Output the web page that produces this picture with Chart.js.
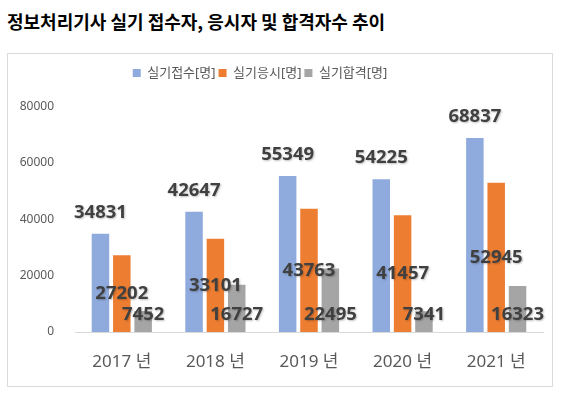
<!DOCTYPE html>
<html>
<head>
<meta charset="utf-8">
<script src="https://cdn.jsdelivr.net/npm/chart.js@4/dist/chart.umd.min.js"></script>
<style>
  body { margin: 0; background: #fff; }
  #wrap { position: relative; width: 566px; height: 397px; overflow: hidden; }
  #title {
    position: absolute; left: 7px; top: 8px;
    font: bold 18px 'Noto Sans CJK KR', 'Noto Sans', sans-serif;
    color: #000; white-space: nowrap;
  }
  #frame {
    position: absolute; left: 7px; top: 53px; width: 544px; height: 332px;
    border: 1px solid #d9d9d9;
  }
  #chart { position: absolute; left: 0; top: 0; }
</style>
</head>
<body>
<div id="wrap">
  <div id="title">정보처리기사 실기 접수자, 응시자 및 합격자수 추이</div>
  <div id="frame"></div>
  <canvas id="chart" width="566" height="397"></canvas>
</div>
<script>
const years = ['2017 년', '2018 년', '2019 년', '2020 년', '2021 년'];
const applied = [34831, 42647, 55349, 54225, 68837];
const tested = [27202, 33101, 43763, 41457, 52945];
const passed = [7452, 16727, 22495, 7341, 16323];
const seriesNames = ['실기접수[명]', '실기응시[명]', '실기합격[명]'];
const seriesColors = ['#8faadc', '#ed7d31', '#a5a5a5'];

Chart.defaults.font.family = "'Noto Sans', 'Noto Sans CJK KR', sans-serif";

// push the plot down below the legend and move the legend a bit left, like Excel
const legendSpacing = {
  id: 'legendSpacing',
  beforeLayout(chart) {
    const lg = chart.legend;
    if (lg && !lg._patched) {
      const fit = lg.fit;
      lg.fit = function () { fit.call(this); this.height += 17; };
      lg._patched = true;
    }
  },
  afterLayout(chart) {
    const lg = chart.legend;
    if (lg) { lg.left -= 11.5; lg.right -= 11.5; }
  }
};

// value labels: outside end, center, inside base
const valueLabels = {
  id: 'valueLabels',
  afterDatasetsDraw(chart) {
    const ctx = chart.ctx;
    ctx.save();
    ctx.font = 'bold 18.5px "Noto Sans", sans-serif';
    ctx.fillStyle = '#404040';
    ctx.textAlign = 'center';
    ctx.textBaseline = 'middle';
    ctx.shadowColor = 'rgba(0,0,0,0.25)';
    ctx.shadowBlur = 2;
    ctx.shadowOffsetX = 1;
    ctx.shadowOffsetY = 1;
    chart.data.datasets.forEach((ds, i) => {
      chart.getDatasetMeta(i).data.forEach((bar, j) => {
        let y;
        if (i === 0) y = bar.y - 21;
        else if (i === 1) y = (bar.y + bar.base) / 2;
        else y = bar.base - 17;
        ctx.fillText(String(ds.data[j]), bar.x, y);
      });
    });
    ctx.restore();
  }
};

new Chart(document.getElementById('chart'), {
  type: 'bar',
  data: {
    labels: years,
    datasets: [applied, tested, passed].map((d, i) => ({
      label: seriesNames[i],
      data: d,
      backgroundColor: seriesColors[i],
      borderWidth: 0,
      categoryPercentage: 0.684,
      barPercentage: 0.82
    }))
  },
  options: {
    responsive: false,
    animation: false,
    layout: { padding: { top: 63.5, left: 0, right: 23, bottom: 0 } },
    plugins: {
      legend: {
        position: 'top',
        labels: {
          boxWidth: 8, boxHeight: 8, padding: 3,
          color: '#595959',
          font: { size: 13 }
        }
      },
      tooltip: { enabled: false }
    },
    scales: {
      x: {
        grid: { display: false, drawTicks: false },
        border: { display: true, color: '#d9d9d9' },
        ticks: { color: '#595959', font: { size: 17 }, padding: 20 },
        afterFit(scale) { scale.height = 65; }
      },
      y: {
        min: 0, max: 80000,
        grid: { display: false, drawTicks: false },
        border: { display: false },
        ticks: {
          stepSize: 20000, color: '#595959', font: { size: 12 }, padding: 21,
          callback: v => String(v)
        },
        afterFit(scale) { scale.width = 75; }
      }
    }
  },
  plugins: [legendSpacing, valueLabels]
});
</script>
</body>
</html>
